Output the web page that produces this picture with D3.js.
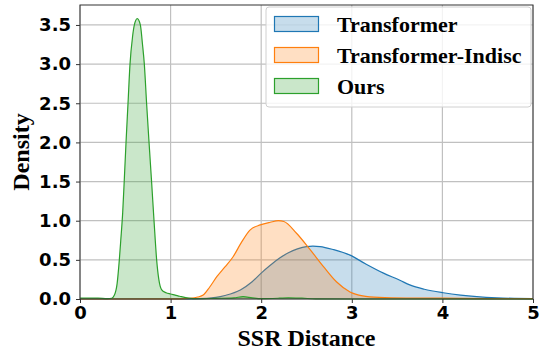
<!DOCTYPE html>
<html>
<head>
<meta charset="utf-8">
<script src="https://cdn.jsdelivr.net/npm/d3@7"></script>
<style>
  body { margin: 0; background: #fff; }
  .tick text { font-family: "DejaVu Sans", sans-serif; font-weight: bold; font-size: 18px; fill: #000; }
  .title { font-family: "Liberation Serif", "Times New Roman", serif; font-weight: bold; font-size: 24px; }
  .legend text { font-family: "Liberation Serif", "Times New Roman", serif; font-weight: bold; font-size: 22px; }
</style>
</head>
<body>
<svg id="chart" width="545" height="351"></svg>
<script>
// density curves
const transformerX = [0, 1.2, 1.4, 1.5, 1.6, 1.77, 1.9, 2.0, 2.1, 2.2, 2.3, 2.4, 2.5, 2.57, 2.65, 2.8, 2.98, 3.15, 3.35, 3.53, 3.64, 3.8, 4.01, 4.2, 4.38, 4.6, 4.8, 5.0];
const transformerY = [0, 0.002, 0.008, 0.02, 0.045, 0.115, 0.22, 0.33, 0.43, 0.52, 0.59, 0.64, 0.67, 0.675, 0.67, 0.63, 0.56, 0.45, 0.33, 0.24, 0.18, 0.125, 0.08, 0.05, 0.03, 0.015, 0.008, 0.004];

const indiscX = [0, 1.1, 1.2, 1.3, 1.36, 1.43, 1.51, 1.6, 1.69, 1.78, 1.876, 1.99, 2.1, 2.19, 2.25, 2.39, 2.54, 2.69, 2.83, 2.98, 3.12, 3.3, 3.6, 4.0, 4.5, 5.0];
const indiscY = [0, 0.002, 0.008, 0.025, 0.05, 0.15, 0.285, 0.41, 0.54, 0.72, 0.88, 0.946, 0.98, 1.0, 0.99, 0.84, 0.63, 0.41, 0.22, 0.09, 0.04, 0.02, 0.012, 0.01, 0.006, 0.004];

const oursX = [0, 0.2, 0.3, 0.35, 0.38, 0.41, 0.434, 0.45, 0.471, 0.49, 0.508, 0.53, 0.552, 0.58, 0.6, 0.632, 0.666, 0.69, 0.71, 0.735, 0.762, 0.79, 0.817, 0.846, 0.87, 0.9, 0.95, 1.0, 1.05, 1.1, 1.2, 1.3, 1.5, 1.7, 1.8, 1.9, 2.0, 2.2, 2.3, 2.45, 2.6, 3.0, 5.0];
const oursY = [0.01, 0.012, 0.005, 0.01, 0.05, 0.2, 0.5, 0.75, 1.1, 1.55, 2.0, 2.5, 3.0, 3.35, 3.5, 3.58, 3.5, 3.25, 3.0, 2.5, 2.0, 1.5, 1.0, 0.5, 0.25, 0.12, 0.08, 0.064, 0.05, 0.035, 0.01, 0.003, 0.008, 0.015, 0.03, 0.015, 0.004, 0.01, 0.015, 0.01, 0.002, 0, 0];

const seriesNames = ['Transformer', 'Transformer-Indisc', 'Ours'];
const seriesColors = ['#1f77b4', '#ff7f0e', '#2ca02c'];
const xTicks = [0, 1, 2, 3, 4, 5];
const yTicks = [0, 0.5, 1, 1.5, 2, 2.5, 3, 3.5];

const series = [
  { name: seriesNames[0], color: seriesColors[0], pts: transformerX.map((x, i) => [x, transformerY[i]]) },
  { name: seriesNames[1], color: seriesColors[1], pts: indiscX.map((x, i) => [x, indiscY[i]]) },
  { name: seriesNames[2], color: seriesColors[2], pts: oursX.map((x, i) => [x, oursY[i]]) }
];

const margin = { top: 5, right: 12, bottom: 52, left: 80 };
const width = 545 - margin.left - margin.right;
const height = 351 - margin.top - margin.bottom;

const svg = d3.select('#chart');
const g = svg.append('g').attr('transform', `translate(${margin.left},${margin.top})`);

const x = d3.scaleLinear().domain([0, 5]).range([0, width]);
const y = d3.scaleLinear().domain([0, 3.755]).range([height, 0]);

// grid
g.append('g').selectAll('line').data(xTicks).enter().append('line')
  .attr('x1', d => x(d)).attr('x2', d => x(d)).attr('y1', 0).attr('y2', height)
  .attr('stroke', '#c0c0c0').attr('stroke-width', 1.2);
g.append('g').selectAll('line').data(yTicks).enter().append('line')
  .attr('x1', 0).attr('x2', width).attr('y1', d => y(d)).attr('y2', d => y(d))
  .attr('stroke', '#c0c0c0').attr('stroke-width', 1.2);

const area = d3.area().x(d => x(d[0])).y0(y(0)).y1(d => y(d[1])).curve(d3.curveMonotoneX);
const line = d3.line().x(d => x(d[0])).y(d => y(d[1])).curve(d3.curveMonotoneX);

series.forEach(s => {
  g.append('path').attr('d', area(s.pts)).attr('fill', s.color).attr('fill-opacity', 0.25);
  g.append('path').attr('d', line(s.pts)).attr('fill', 'none').attr('stroke', s.color).attr('stroke-width', 1.2);
});

// axes
const xAxis = g.append('g').attr('transform', `translate(0,${height})`)
  .call(d3.axisBottom(x).tickValues(xTicks).tickFormat(d3.format('d')).tickSize(4).tickPadding(3));
const yAxis = g.append('g')
  .call(d3.axisLeft(y).tickValues(yTicks).tickFormat(d3.format('.1f')).tickSize(4).tickPadding(5));
[xAxis, yAxis].forEach(a => {
  a.select('.domain').remove();
  a.selectAll('.tick line').attr('stroke', '#333').attr('stroke-width', 1);
});

// frame
g.append('rect').attr('width', width).attr('height', height)
  .attr('fill', 'none').attr('stroke', '#333').attr('stroke-width', 1);

// titles
svg.append('text').attr('class', 'title').attr('x', margin.left + width / 2).attr('y', 346)
  .attr('text-anchor', 'middle').text('SSR Distance');
svg.append('text').attr('class', 'title')
  .attr('transform', `translate(29,${margin.top + height / 2}) rotate(-90)`)
  .attr('text-anchor', 'middle').text('Density');

// legend
const legend = svg.append('g').attr('class', 'legend');
legend.append('rect').attr('x', 266).attr('y', 7).attr('width', 265).attr('height', 100).attr('rx', 3)
  .attr('fill', '#fff').attr('fill-opacity', 0.8).attr('stroke', '#d0d0d0');
series.forEach((s, i) => {
  const cy = 24 + i * 31;
  legend.append('rect').attr('x', 274.5).attr('y', cy - 7.5).attr('width', 44).attr('height', 15)
    .attr('fill', s.color).attr('fill-opacity', 0.25).attr('stroke', s.color).attr('stroke-width', 1.2);
  legend.append('text').attr('x', 337).attr('y', cy + 7.5).text(s.name);
});
</script>
</body>
</html>
